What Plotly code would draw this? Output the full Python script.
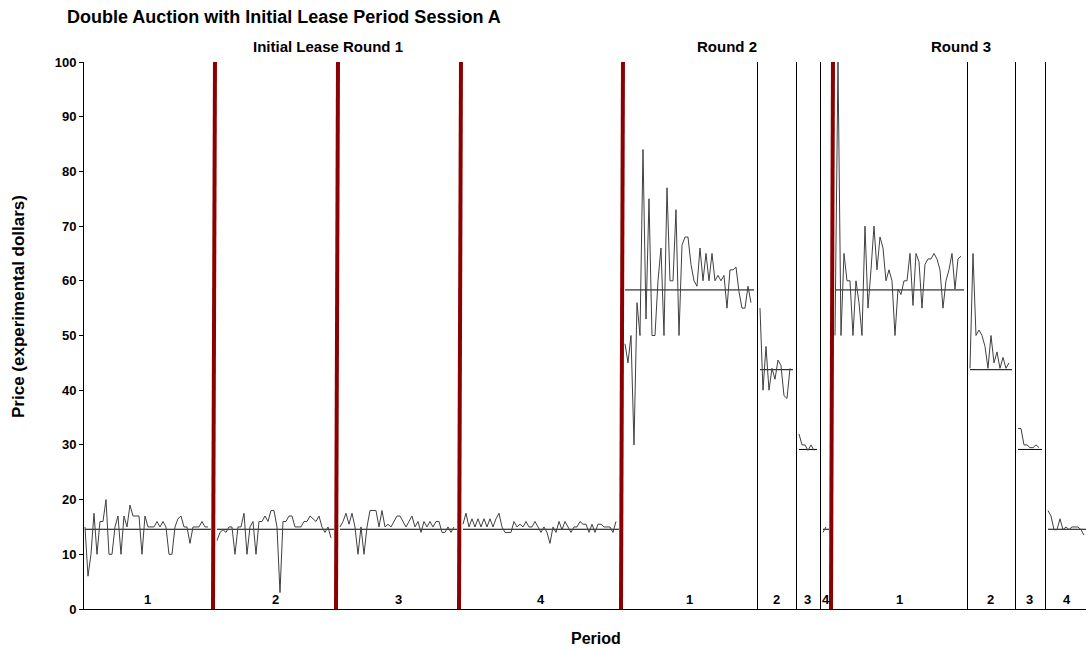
import plotly.graph_objects as go

# Transaction prices, one list per trading period, in the order the trades occurred
r1_p1 = [15, 6, 10, 17.5, 10, 16, 16, 20, 10, 10, 15, 17, 10, 17, 15, 19, 17, 17, 17, 10,
         17, 15, 15, 15, 16, 15, 16, 15, 10, 10, 15, 16.5, 17, 15, 15, 12, 15, 15, 15, 16, 15, 15]
r1_p2 = [12.5, 14, 14.5, 14, 15, 15, 10, 15, 15, 17.5, 10, 15, 16, 10, 16, 16, 17, 16, 18, 18,
         15, 3, 16, 16, 17, 17, 15, 15, 15, 16, 16, 17, 16.5, 16, 17, 15, 14, 15, 13]
r1_p3 = [15, 16, 17.5, 15.5, 17.5, 15, 10, 15, 10, 15, 18, 18, 18, 15, 18, 15, 15.5, 15, 16, 17,
         17, 16, 15, 16, 17, 15, 16, 14, 16, 15, 16, 15, 16, 16, 14, 14, 15, 14, 15]
r1_p4 = [15.5, 17.5, 15, 16.5, 15, 16.5, 15, 16.5, 15, 16.5, 15, 16.5, 17.5, 15, 14, 14, 14, 16,
         15, 15.5, 15, 16, 15, 15, 16, 15, 14, 15, 14, 12, 15, 14, 16, 14.5, 16, 15, 14, 15, 15,
         16, 15.5, 15.5, 14, 15.5, 14, 15.5, 15.5, 15, 15, 15, 14, 16]
r2_p1 = [48.5, 45, 50, 30, 56, 50, 84, 53, 75, 50, 50, 60, 66, 50, 77, 60, 60, 73, 50, 66.5,
         68, 68, 63, 60, 59, 66, 60, 65, 60, 65, 60, 61, 60, 61, 55, 62, 62, 62.5, 58, 55,
         55, 59, 56]
r2_p2 = [55, 40, 48, 40, 44, 42, 45.5, 44.5, 39, 38.5, 44]
r2_p3 = [32, 30, 30, 29, 30, 29]
r2_p4 = [14, 15]
r3_p1 = [50, 100, 50, 65, 60, 60, 50, 60, 56, 50, 70, 55, 62, 70, 62, 68, 66, 60, 62, 60,
         50, 58.5, 57.5, 60, 60, 65, 55.5, 65, 63.5, 55, 63, 64, 64, 65, 64, 62, 55, 60, 62,
         65, 58.5, 64, 64.5]
r3_p2 = [44, 65, 50, 51, 50, 48, 44, 50, 45, 47, 44, 46, 44, 45]
r3_p3 = [33, 33, 30, 30, 29.5, 29.5, 30, 29.5]
r3_p4 = [18, 17, 14.5, 14.5, 16.5, 14.5, 15, 14.5, 15, 15, 15, 14.5, 13.5]

periods = [r1_p1, r1_p2, r1_p3, r1_p4,
           r2_p1, r2_p2, r2_p3, r2_p4,
           r3_p1, r3_p2, r3_p3, r3_p4]
round_of_period = [1, 1, 1, 1, 2, 2, 2, 2, 3, 3, 3, 3]
period_labels = ["1", "2", "3", "4"] * 3
# fundamental value of the asset in each period
fundamental = [14.58, 14.58, 14.58, 14.58,
               58.33, 43.75, 29.17, 14.58,
               58.33, 43.75, 29.17, 14.58]
# divider drawn at the start of each period: "axis" (none), "lease" (red) or "period" (thin)
divider_kind = ["axis", "lease", "lease", "lease",
                "lease", "period", "period", "period",
                "lease", "period", "period", "period"]
round_titles = ["Initial Lease Round 1", "Round 2", "Round 3"]

BOLD = dict(family="Liberation Sans, Arial, sans-serif", color="black", weight="bold")

price_x, price_y = [], []
eq_x, eq_y = [], []
starts, ends = [], []
pos = 0
for prices, fv in zip(periods, fundamental):
    n = len(prices)
    starts.append(pos)
    price_x += [pos + 1 + i for i in range(n)] + [None]
    price_y += list(prices) + [None]
    eq_x += [pos + 1, pos + n + 1, None]
    eq_y += [fv, fv, None]
    pos += n + 2
    ends.append(pos)

fig = go.Figure()
fig.add_trace(go.Scatter(x=eq_x, y=eq_y, mode="lines",
                         line=dict(color="black", width=1), hoverinfo="skip",
                         showlegend=False))
fig.add_trace(go.Scatter(x=price_x, y=price_y, mode="lines",
                         line=dict(color="#404040", width=1), showlegend=False))

shapes = []
for kind, b in zip(divider_kind, starts):
    if kind == "lease":
        shapes.append(dict(type="line", xref="x", yref="y", x0=b - 0.33, x1=b + 0.33,
                           y0=0, y1=100, line=dict(color="#8B0000", width=4), layer="above"))
    elif kind == "period":
        shapes.append(dict(type="line", xref="x", yref="y", x0=b + 0.17, x1=b + 0.17,
                           y0=0, y1=100, line=dict(color="black", width=1), layer="above"))

annotations = []
for lab, s, e in zip(period_labels, starts, ends):
    annotations.append(dict(x=(s + e) / 2, y=1.8, xref="x", yref="y", text=lab,
                            showarrow=False, font=dict(size=13, **BOLD)))

for r, title in enumerate(round_titles, start=1):
    idx = [i for i, rr in enumerate(round_of_period) if rr == r]
    r0, r1 = starts[idx[0]], ends[idx[-1]]
    annotations.append(dict(x=(r0 + r1) / 2, y=1 + 16 / 547, xref="x", yref="paper",
                            text=title, showarrow=False, xanchor="center",
                            yanchor="middle", xshift=-24 if r == 1 else 0,
                            font=dict(size=15, **BOLD)))

annotations.append(dict(x=(596 - 84) / 1002, y=-29 / 547, xref="paper",
                        yref="paper", text="Period", showarrow=False,
                        xanchor="center", yanchor="middle",
                        font=dict(size=16, **BOLD)))
annotations.append(dict(x=(18 - 84) / 1002, y=(609 - 307) / 547, xref="paper",
                        yref="paper", text="Price (experimental dollars)", textangle=-90,
                        showarrow=False, xanchor="center", yanchor="middle",
                        font=dict(size=17, **BOLD)))

x_end = starts[-1] + len(r3_p4) + 0.67

fig.update_layout(
    width=1086, height=650,
    margin=dict(l=84, r=0, t=62, b=41),
    plot_bgcolor="white", paper_bgcolor="white",
    title=dict(text="Double Auction with Initial Lease Period Session A",
               x=67 / 1086, xanchor="left", xref="container",
               y=1 - 17 / 650, yanchor="middle", yref="container",
               font=dict(size=18, **BOLD)),
    xaxis=dict(range=[0.67, x_end], showgrid=False, zeroline=False,
               showticklabels=False, ticks="", showline=True,
               linecolor="black", linewidth=1),
    yaxis=dict(range=[0, 100], dtick=10, showgrid=False, zeroline=False,
               ticks="outside", ticklen=4, tickcolor="black",
               showline=True, linecolor="black", linewidth=1,
               tickfont=dict(size=13, **BOLD)),
    shapes=shapes,
    annotations=annotations,
    showlegend=False,
)

fig.write_html("out.html")
